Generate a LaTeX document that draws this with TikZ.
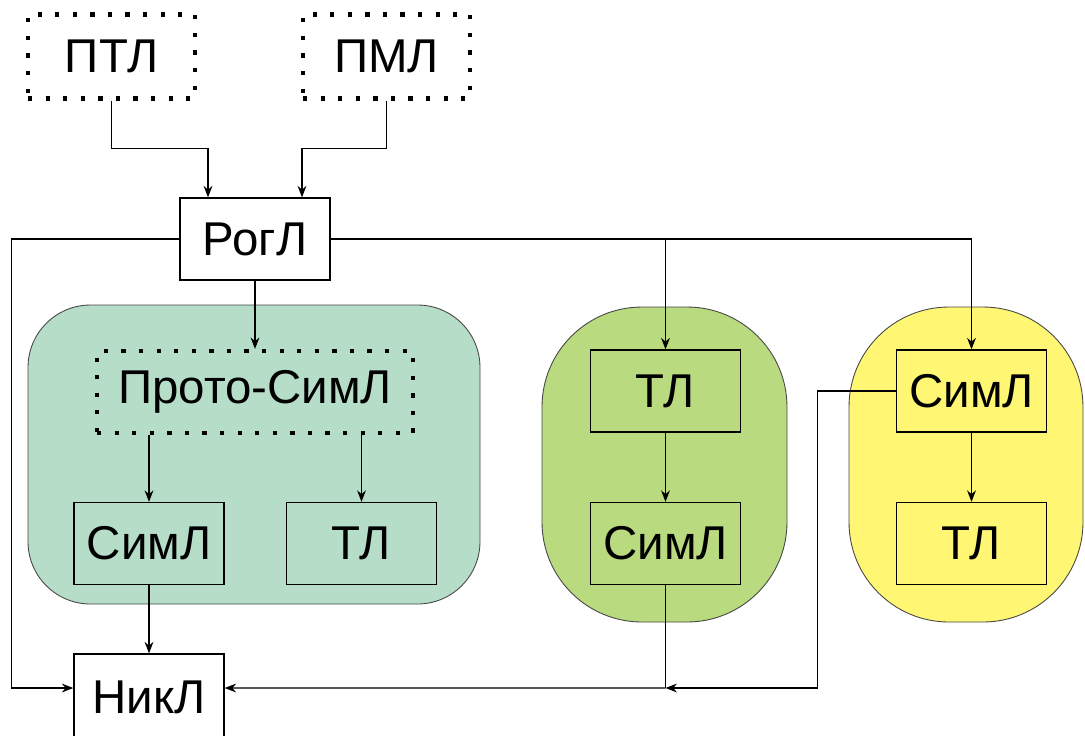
\documentclass[tikz,border=0pt]{standalone}
\usepackage{fontspec}
\setmainfont{Liberation Sans}
\usetikzlibrary{arrows.meta, positioning, calc, backgrounds}
\definecolor{protocolor}{RGB}{182, 221, 200}
\definecolor{tlcolor}{RGB}{185, 218, 126}
\definecolor{simcolor}{RGB}{255, 247, 115}
\definecolor{edgegray}{RGB}{70, 70, 70}

\begin{document}
\begin{tikzpicture}[
    x=0.02cm, y=-0.02cm,
    >={Stealth[length=6.5pt, width=5pt]},
    lang/.style={rectangle, draw=black, line width=0.8pt, minimum width=3cm, minimum height=1.64cm, inner sep=0pt, font=\fontsize{27}{30}\selectfont},
    proto/.style={lang, line width=2.4pt, dash pattern=on 2.4pt off 7.6pt},
    group/.style={draw=edgegray, line width=0.5pt},
    arrow/.style={->, line width=0.6pt}
]
\useasboundingbox (0,0) rectangle (1085,735);

% === Groups ===
\draw[group, fill=protocolor, rounded corners=1.25cm] (28,305) rectangle (480,604);
\draw[group, fill=tlcolor, rounded corners=2cm] (542,307) rectangle (787,622);
\draw[group, fill=simcolor, rounded corners=2cm] (849,307) rectangle (1083,622);

% === Parent languages ===
\node[proto, minimum width=3.34cm, minimum height=1.68cm] (ptl) at (111.5, 56.5) {ПТЛ};
\node[proto, minimum width=3.34cm, minimum height=1.68cm] (pml) at (386.5, 56.5) {ПМЛ};
\node[lang, fill=white] (rog) at (255, 239) {РогЛ};

% === Left group ===
\node[proto, minimum width=6.32cm] (proto) at (255, 392) {Прото-СимЛ};
\node[lang] (tsim) at (149, 543.5) {СимЛ};
\node[lang] (ttl) at (361.5, 543.5) {ТЛ};

% === Middle group ===
\node[lang] (gtl) at (665.5, 391) {ТЛ};
\node[lang] (gsim) at (665.5, 543.5) {СимЛ};

% === Right group ===
\node[lang] (ysim) at (971.5, 391) {СимЛ};
\node[lang] (ytl) at (971.5, 543.5) {ТЛ};

% === Result ===
\node[lang, fill=white, minimum height=1.72cm] (nik) at (149, 697) {НикЛ};
\coordinate (jn) at (665.5, 688);

% Arrows - parents
\draw[arrow] (ptl.south) -- ++(0,47.5) -| ([xshift=-0.94cm]rog.north);
\draw[arrow] (pml.south) -- ++(0,47.5) -| ([xshift=0.94cm]rog.north);

% Arrows - from RogL
\draw[arrow] (rog.west) -- ++(-168,0) |- ([yshift=0.18cm]nik.west);
\draw[arrow] (rog.east) -| (ysim.north);
\draw[arrow] (rog.east -| gtl.north) -- (gtl.north);
\draw[arrow] (rog.south) -- (proto.north);

% Inside groups
\draw[arrow] (proto.south -| tsim.north) -- (tsim.north);
\draw[arrow] (proto.south -| ttl.north) -- (ttl.north);
\draw[arrow] (gtl) -- (gsim);
\draw[arrow] (ysim) -- (ytl);

% Arrows - to NikL
\draw[arrow] (tsim) -- (nik);
\draw[line width=0.6pt] (gsim.south) -- (jn);
\draw[arrow] (ysim.west) -- ++(-78,0) |- (jn);
\draw[arrow] (jn) -- ([yshift=0.18cm]nik.east);

\end{tikzpicture}
\end{document}
